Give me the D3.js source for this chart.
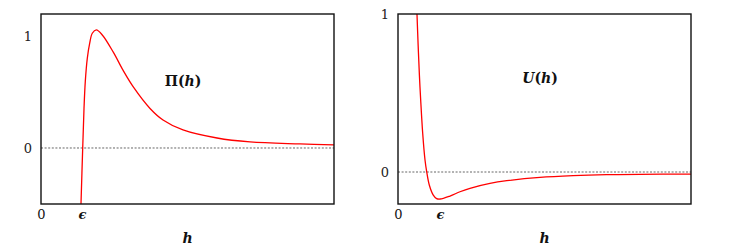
<!DOCTYPE html>
<html><head><meta charset="utf-8">
<script src="https://cdn.jsdelivr.net/npm/d3@7"></script>
<style>
body{margin:0;background:#fff;}
text{font-family:"DejaVu Serif","Liberation Serif",serif;}
</style></head>
<body><svg id="c" width="734" height="248"></svg>
<script>
// Left panel: disjoining pressure Π(h), h in units of ε
const piH = [0.955, 0.976, 1.017, 1.049, 1.080, 1.129, 1.188, 1.251, 1.349, 1.495, 1.763, 2.007, 2.251, 2.659, 2.976, 3.463, 4.293, 5.098, 6.317, 7.2];
const piV = [-0.75, -0.494, 0.0, 0.354, 0.592, 0.80, 0.935, 1.024, 1.054, 1.009, 0.855, 0.69, 0.545, 0.353, 0.25, 0.161, 0.089, 0.054, 0.036, 0.027];
// Right panel: potential U(h)
const uH = [0.43, 0.452, 0.48, 0.51, 0.540, 0.588, 0.643, 0.683, 0.745, 0.84, 0.92, 1.0, 1.238, 1.476, 1.714, 2.19, 2.59, 3.38, 4.17, 4.97, 5.76, 7.0];
const uV = [1.16, 1.0, 0.80, 0.61, 0.456, 0.245, 0.076, 0.002, -0.082, -0.146, -0.168, -0.171, -0.152, -0.125, -0.103, -0.072, -0.055, -0.034, -0.023, -0.017, -0.015, -0.013];
const yTickValues = [0, 1];
const yTickLabels = ["0", "1"];
const xTickValues = [0, 1];
const xTickLabels = ["0", "ϵ"];

const svg = d3.select("#c");

function panel(cfg){
  const g = svg.append("g");
  const x = d3.scaleLinear().domain(cfg.xDomain).range([cfg.x0, cfg.x1]);
  const y = d3.scaleLinear().domain(cfg.yDomain).range([cfg.y1, cfg.y0]);
  const id = "clip" + cfg.id;
  svg.append("clipPath").attr("id", id).append("rect")
    .attr("x", cfg.x0).attr("y", cfg.y0).attr("width", cfg.x1 - cfg.x0).attr("height", cfg.y1 - cfg.y0);
  // zero line
  g.append("line").attr("x1", cfg.x0).attr("x2", cfg.x1).attr("y1", y(0)).attr("y2", y(0))
    .attr("stroke", "#555").attr("stroke-width", 0.9).attr("stroke-dasharray", "2,1.6");
  // curve
  const data = cfg.hs.map((h, i) => [h, cfg.vs[i]]);
  g.append("path").datum(data).attr("clip-path", `url(#${id})`)
    .attr("d", d3.line().x(d => x(d[0])).y(d => y(d[1])).curve(d3.curveCatmullRom.alpha(0.5)))
    .attr("fill", "none").attr("stroke", "#f00").attr("stroke-width", 1.3);
  // frame
  g.append("rect").attr("x", cfg.x0).attr("y", cfg.y0).attr("width", cfg.x1 - cfg.x0).attr("height", cfg.y1 - cfg.y0)
    .attr("fill", "none").attr("stroke", "#111").attr("stroke-width", 1.4);
  // y axis
  const ya = g.append("g").attr("transform", `translate(${cfg.x0},0)`)
    .call(d3.axisLeft(y).tickValues(yTickValues).tickSize(0).tickPadding(cfg.yPad)
      .tickFormat((d, i) => yTickLabels[yTickValues.indexOf(d)]));
  ya.select(".domain").remove();
  ya.selectAll("text").attr("font-size", 13).attr("fill", "#222").attr("font-family", "DejaVu Serif, serif");
  // x axis
  const xa = g.append("g").attr("transform", `translate(0,${cfg.y1})`)
    .call(d3.axisBottom(x).tickValues(xTickValues).tickSize(0).tickPadding(6)
      .tickFormat(d => xTickLabels[xTickValues.indexOf(d)]));
  xa.select(".domain").remove();
  xa.selectAll("text").attr("font-size", 13).attr("fill", "#111").attr("font-family", "DejaVu Serif, serif")
    .attr("font-style", (d, i) => i === 1 ? "italic" : "normal")
    .attr("font-weight", (d, i) => i === 1 ? "bold" : "normal");
  // x label
  g.append("text").attr("x", (cfg.x0 + cfg.x1) / 2).attr("y", 243).attr("text-anchor", "middle")
    .attr("font-size", 14).attr("font-weight", "bold").attr("font-style", "italic").attr("fill", "#111").text("h");
  // function label
  const t = g.append("text").attr("x", cfg.lx).attr("y", cfg.ly).attr("text-anchor", "middle")
    .attr("font-size", 14).attr("font-weight", "bold").attr("fill", "#111");
  t.append("tspan").attr("font-style", cfg.nameItalic ? "italic" : "normal").text(cfg.name);
  t.append("tspan").text("(");
  t.append("tspan").attr("font-style", "italic").text("h");
  t.append("tspan").text(")");
}

panel({id: "L", x0: 41, x1: 334, y0: 14, y1: 204, xDomain: [0, 7.146], yDomain: [-0.5, 1.196],
  hs: piH, vs: piV, yPad: 9, lx: 183, ly: 86, name: "Π", nameItalic: false});
panel({id: "R", x0: 398, x1: 691, y0: 14, y1: 204, xDomain: [0, 6.976], yDomain: [-0.2025, 1],
  hs: uH, vs: uV, yPad: 9, lx: 540, ly: 83, name: "U", nameItalic: true});
</script></body></html>
